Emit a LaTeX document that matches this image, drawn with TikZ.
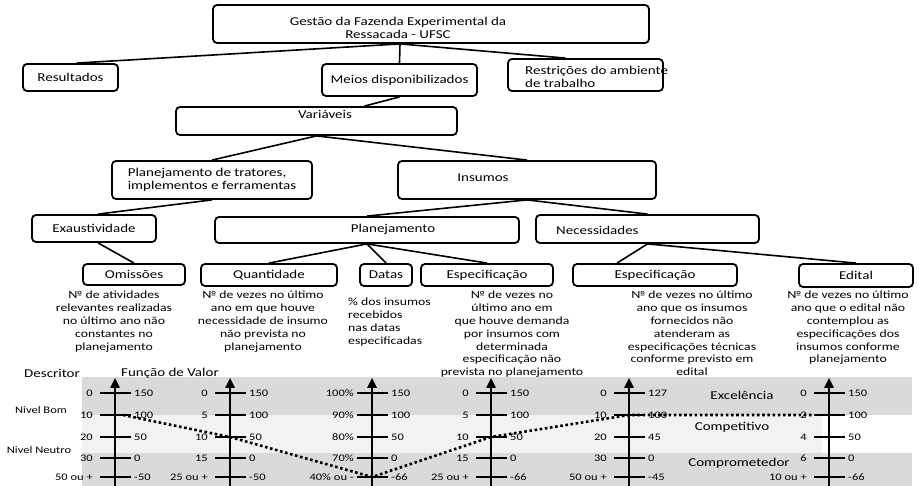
\documentclass[tikz,border=0pt]{standalone}
\usepackage{fontspec}
\setmainfont{Carlito}[FakeStretch=1.25]
\usepackage{tikz}
\usepackage{xcolor}
\definecolor{faixaesc}{RGB}{218,218,218}
\definecolor{faixacla}{RGB}{242,242,242}

\begin{document}
\begin{tikzpicture}[x=1pt,y=-1pt,
		caixa/.style={draw=black, line width=1.8pt, rounded corners=4pt},
		rotulo/.style={font=\fontsize{12}{12.5}\selectfont},
		desc/.style={anchor=north, align=center, font=\fontsize{11}{12.8}\selectfont},
		val/.style={font=\fontsize{10}{11}\selectfont},
		liga/.style={line width=1.6pt},
		marca/.style={line width=2.6pt},
		pontilhado/.style={line width=2.6pt, dash pattern=on 2.6pt off 2.6pt}]
			\tikzstyle{every node}+=[inner sep=0pt]
			\useasboundingbox (0,0) rectangle (919,486);

			% arvore
			\node[caixa, minimum width=436, minimum height=38] (topo) at (431,24) {};
			\node[rotulo, align=center] (t-topo) at (398,28) {Gestão da Fazenda Experimental da\\Ressacada - UFSC};
			\node[caixa, rotulo, minimum width=95, minimum height=27] (res) at (70.5,77.5) {Resultados};
			\node[caixa, rotulo, minimum width=155, minimum height=32] (meios) at (399.5,80) {Meios disponibilizados};
			\node[caixa, minimum width=155, minimum height=32] (restr) at (585.5,75) {};
			\node[rotulo, align=left, anchor=west] (t-restr) at (525,77) {Restrições do ambiente\\de trabalho};
			\node[caixa, minimum width=281, minimum height=28] (var) at (316.5,121) {};
			\node[rotulo] (t-var) at (325,114) {Variáveis};
			\node[caixa, rotulo, align=left, minimum width=200, minimum height=38] (trat) at (212,180) {Planejamento de tratores,\\implementos e ferramentas};
			\node[caixa, minimum width=258, minimum height=38] (ins) at (527,180) {};
			\node[rotulo] (t-ins) at (483,178) {Insumos};
			\node[caixa, rotulo, minimum width=124, minimum height=27] (exa) at (94,228.5) {Exaustividade};
			\node[caixa, minimum width=304, minimum height=26] (plan) at (367,230) {};
			\node[rotulo] (t-plan) at (393,229) {Planejamento};
			\node[caixa, minimum width=223, minimum height=28] (nec) at (647.5,229) {};
			\node[rotulo, anchor=west] (t-nec) at (556,230) {Necessidades};
			\node[caixa, rotulo, minimum width=102, minimum height=21] (omi) at (134,274.5) {Omissões};
			\node[caixa, rotulo, minimum width=136, minimum height=22] (qua) at (269,275) {Quantidade};
			\node[caixa, rotulo, minimum width=52, minimum height=22] (dat) at (386,275) {Datas};
			\node[caixa, rotulo, minimum width=132, minimum height=22] (esp) at (487,275) {Especificação};
			\node[caixa, rotulo, minimum width=164, minimum height=22] (esp2) at (655,275) {Especificação};
			\node[caixa, rotulo, minimum width=114, minimum height=23] (edi) at (856,275.5) {Edital};

			\draw[liga] ([xshift=-31]topo.south) -- ([xshift=6]res.north);
			\draw[liga] ([xshift=-31]topo.south) -- (meios.north);
			\draw[liga] ([xshift=-31]topo.south) -- ([xshift=-20]restr.north);
			\draw[liga] (meios.south) -- ([xshift=48]var.north);
			\draw[liga] (var.south) -- (trat.north);
			\draw[liga] (var.south) -- (ins.north);
			\draw[liga] (trat.south) -- ([xshift=4]exa.north);
			\draw[liga] (ins.south) -- (plan.north);
			\draw[liga] (ins.south) -- (nec.north);
			\draw[liga] ([xshift=4]exa.south) -- (omi.north);
			\draw[liga] (plan.south) -- (qua.north);
			\draw[liga] (plan.south) -- (dat.north);
			\draw[liga] (plan.south) -- (esp.north);
			\draw[liga] (nec.south) -- ([xshift=-38]esp2.north);
			\draw[liga] (nec.south) -- (edi.north);

			% descritores
			\node[desc] (d-omi) at (114,291) {№ de atividades\\relevantes realizadas\\no último ano não\\constantes no\\planejamento};
			\node[desc] (d-qua) at (263,291) {№ de vezes no último\\ano em que houve\\necessidade de insumo\\não prevista no\\planejamento};
			\node[desc, align=left, anchor=north west] (d-dat) at (348,298) {\% dos insumos\\recebidos\\nas datas\\especificadas};
			\node[desc] (d-esp) at (512,291) {№ de vezes no\\último ano em\\que houve demanda\\por insumos com\\determinada\\especificação não\\prevista no planejamento};
			\node[desc] (d-esp2) at (692,291) {№ de vezes no último\\ano que os insumos\\fornecidos não\\atenderam as\\especificações técnicas\\conforme previsto em\\edital};
			\node[desc] (d-edi) at (848,291) {№ de vezes no último\\ano que o edital não\\contemplou as\\especificações dos\\insumos conforme\\planejamento};

			% faixas
			\fill[faixaesc] (82,377) rectangle (912,415);
			\fill[faixacla] (82,415) rectangle (822,453);
			\fill[faixaesc] (82,453) rectangle (912,486);
			\node[rotulo] (descr) at (52,373) {Descritor};
			\node[rotulo] (fval) at (170,373) {Função de Valor};
			\node[val] (bom) at (41,410) {Nivel Bom};
			\node[val] (neutro) at (39,450) {Nivel Neutro};
			\node[rotulo] (exc) at (742,395) {Excelência};
			\node[rotulo] (comp) at (732,427) {Competitivo};
			\node[rotulo] (compr) at (739,463) {Comprometedor};

			% escalas
			\draw[marca] (115,486) -- (115,387);
			\fill [black] (115,378) -- (110,388) -- (120,388);
			\foreach \y/\l/\r [count=\k] in {393/0/150, 415/10/100, 437/20/50, 458/30/0, 477/50 ou +/-50} {
				\draw[marca] (100,\y) -- (131,\y);
				\node[val, anchor=east] (e1-l\k) at (93,\y) {\l};
				\node[val, anchor=west] (e1-r\k) at (134,\y) {\r};
				\coordinate (e1-\k) at (115,\y);
			}
			\draw[marca] (230,486) -- (230,387);
			\fill [black] (230,378) -- (225,388) -- (235,388);
			\foreach \y/\l/\r [count=\k] in {393/0/150, 415/5/100, 437/10/50, 458/15/0, 477/25 ou +/-50} {
				\draw[marca] (215,\y) -- (246,\y);
				\node[val, anchor=east] (e2-l\k) at (208,\y) {\l};
				\node[val, anchor=west] (e2-r\k) at (249,\y) {\r};
				\coordinate (e2-\k) at (230,\y);
			}
			\draw[marca] (372,486) -- (372,387);
			\fill [black] (372,378) -- (367,388) -- (377,388);
			\foreach \y/\l/\r [count=\k] in {393/100\%/150, 415/90\%/100, 437/80\%/50, 458/70\%/0, 477/40\% ou -/-66} {
				\draw[marca] (357,\y) -- (388,\y);
				\node[val, anchor=east] (e3-l\k) at (354,\y) {\l};
				\node[val, anchor=west] (e3-r\k) at (391,\y) {\r};
				\coordinate (e3-\k) at (372,\y);
			}
			\draw[marca] (491,486) -- (491,387);
			\fill [black] (491,378) -- (486,388) -- (496,388);
			\foreach \y/\l/\r [count=\k] in {393/0/150, 415/5/100, 437/10/50, 458/15/0, 477/25 ou +/-66} {
				\draw[marca] (476,\y) -- (507,\y);
				\node[val, anchor=east] (e4-l\k) at (469,\y) {\l};
				\node[val, anchor=west] (e4-r\k) at (510,\y) {\r};
				\coordinate (e4-\k) at (491,\y);
			}
			\draw[marca] (629,486) -- (629,387);
			\fill [black] (629,378) -- (624,388) -- (634,388);
			\foreach \y/\l/\r [count=\k] in {393/0/127, 415/10/100, 437/20/45, 458/30/0, 477/50 ou +/-45} {
				\draw[marca] (614,\y) -- (645,\y);
				\node[val, anchor=east] (e5-l\k) at (607,\y) {\l};
				\node[val, anchor=west] (e5-r\k) at (648,\y) {\r};
				\coordinate (e5-\k) at (629,\y);
			}
			\draw[marca] (829,486) -- (829,387);
			\fill [black] (829,378) -- (824,388) -- (834,388);
			\foreach \y/\l/\r [count=\k] in {393/0/150, 415/2/100, 437/4/50, 458/6/0, 477/10 ou +/-66} {
				\draw[marca] (814,\y) -- (845,\y);
				\node[val, anchor=east] (e6-l\k) at (807,\y) {\l};
				\node[val, anchor=west] (e6-r\k) at (848,\y) {\r};
				\coordinate (e6-\k) at (829,\y);
			}

			% perfil
			\draw[pontilhado] ([xshift=8]e1-2) -- (e2-3) -- (e3-5) -- (e4-3) -- (e5-2) -- ([xshift=-15]e6-2);
		\end{tikzpicture}
\end{document}
